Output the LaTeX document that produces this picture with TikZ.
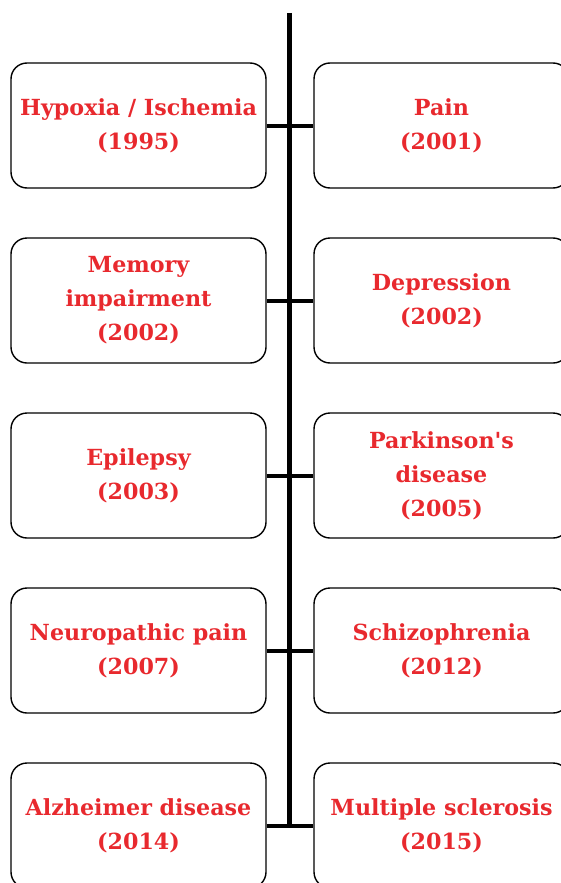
\documentclass[tikz,border=0pt]{standalone}
\usepackage{fontspec}
\setmainfont{DejaVu Serif}
\definecolor{labelred}{HTML}{E8292E}
\tikzset{
    box/.style={draw, line width=1.4pt, rounded corners=16pt, minimum width=255pt,
        minimum height=125pt, align=center, text=labelred,
        font=\fontsize{22.2}{34}\selectfont\bfseries},
    link/.style={line width=4pt}
}
\begin{document}
\begin{tikzpicture}[x=1pt, y=-1pt]
    \useasboundingbox (0, 0) rectangle (561, 883);

    % Left column
    \node[box] (hypoxia) at (138.5, 125.5) {Hypoxia / Ischemia\\(1995)};
    \node[box] (memory) at (138.5, 300.5) {Memory\\impairment\\(2002)};
    \node[box] (epilepsy) at (138.5, 475.5) {Epilepsy\\(2003)};
    \node[box] (neuro) at (138.5, 650.5) {Neuropathic pain\\(2007)};
    \node[box] (alzheimer) at (138.5, 825.5) {Alzheimer disease\\(2014)};

    % Right column
    \node[box] (pain) at (441.5, 125.5) {Pain\\(2001)};
    \node[box] (depression) at (441.5, 300.5) {Depression\\(2002)};
    \node[box] (parkinson) at (441.5, 475.5) {Parkinson\textquotesingle s\\disease\\(2005)};
    \node[box] (schizo) at (441.5, 650.5) {Schizophrenia\\(2012)};
    \node[box] (ms) at (441.5, 825.5) {Multiple sclerosis\\(2015)};

    % Time line
    \coordinate (top) at (289.5, 13);
    \draw[line width=5pt] (top) -- (top |- alzheimer.east);

    % Links
    \draw[link] (hypoxia.east) -- (pain.west);
    \draw[link] (memory.east) -- (depression.west);
    \draw[link] (epilepsy.east) -- (parkinson.west);
    \draw[link] (neuro.east) -- (schizo.west);
    \draw[link] (alzheimer.east) -- (ms.west);
\end{tikzpicture}
\end{document}
